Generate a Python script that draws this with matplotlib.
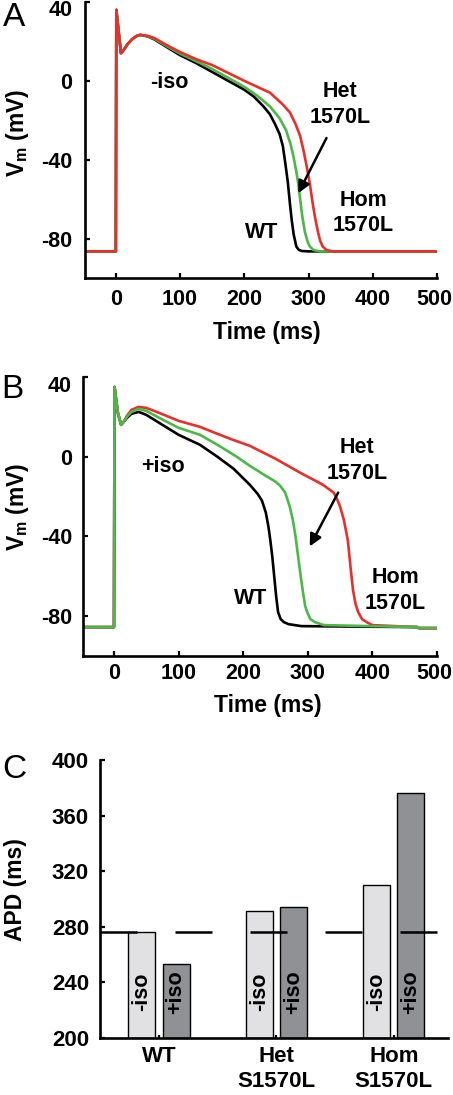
import matplotlib
matplotlib.use("Agg")
import matplotlib.pyplot as plt
import matplotlib.transforms as mtransforms
import numpy as np

plt.rcParams['font.family'] = ['Liberation Sans', 'DejaVu Sans']
plt.rcParams['font.weight'] = 'bold'
plt.rcParams['axes.unicode_minus'] = False
plt.rcParams['mathtext.fontset'] = 'custom'
plt.rcParams['mathtext.rm'] = 'Liberation Sans:bold'
plt.rcParams['mathtext.it'] = 'Liberation Sans:bold'

# Panel A (-iso): upstroke and notch shared by all three traces
onset_t_a = [-48, 0, 0.8, 8, 12, 18, 25, 32, 38]
onset_v_a = [-86.5, -86.5, 36, 14, 15.5, 18.5, 21, 22.7, 23.3]

wt_t_a = [50, 60, 80, 100, 125, 150, 175, 200, 215, 230, 240, 248, 255, 260, 264,
          268, 271, 274, 277, 281, 285, 290, 300, 500]
wt_v_a = [22.5, 21, 17, 13, 9, 4.5, 0, -4.5, -8, -13, -17, -22, -27, -33, -42,
          -52, -62, -71, -78, -84, -85.8, -86.3, -86.5, -86.5]

het_t_a = [50, 60, 80, 100, 125, 150, 175, 200, 220, 240, 255, 265, 272, 277, 281,
           284, 287, 290, 294, 298, 302, 308, 318, 500]
het_v_a = [22.6, 21.3, 17.5, 13.8, 10, 6, 1.5, -3, -7.5, -13, -19, -25, -32, -39, -46,
           -52, -60, -68, -76, -81, -84, -85.8, -86.5, -86.5]

hom_t_a = [50, 60, 80, 100, 125, 150, 175, 200, 220, 240, 260, 271, 280, 287, 292,
           297, 302, 306, 310, 315, 318, 322, 328, 338, 500]
hom_v_a = [22.8, 21.7, 18, 14.6, 11, 8, 4, 0, -3, -6, -12, -16, -22, -28, -35,
           -43, -52, -61, -69, -77, -81, -84, -85.8, -86.5, -86.5]

# Panel B (+iso)
onset_t_b = [-48, 0, 0.8, 6, 11]
onset_v_b = [-85.5, -85.5, 35, 22, 16]

wt_t_b = [15, 20, 27, 38, 50, 70, 100, 133, 160, 185, 210, 222, 229, 235, 239, 242,
          245, 248, 251, 254, 258, 263, 270, 290, 470, 472, 500]
wt_v_b = [17.5, 19.5, 21.5, 22.5, 21, 17, 11, 6, 0, -6, -14, -18.5, -22, -28, -35, -42,
          -50, -60, -70, -78, -81.5, -83, -84, -85, -85.5, -86, -86]

het_t_b = [15, 20, 27, 38, 50, 70, 100, 133, 160, 190, 210, 237, 250, 257, 265, 272,
           277, 281, 285, 289, 293, 296, 299, 304, 311, 325, 470, 472, 500]
het_v_b = [17.5, 20, 22.5, 24, 23, 19.5, 14.5, 11, 6, 0, -4.5, -10, -12.5, -14.5, -18, -25,
           -32, -40, -50, -60, -69, -75, -78, -81.5, -83, -84.5, -85.5, -86, -86]

hom_t_b = [15, 20, 27, 38, 50, 70, 100, 133, 160, 184, 210, 250, 288, 323, 340, 345,
           350, 356, 362, 366, 370, 374, 378, 384, 391, 400, 470, 472, 500]
hom_v_b = [17.5, 20.5, 23.5, 25, 24.5, 22, 18, 15, 11.5, 8.5, 5.5, -1, -8, -14, -18, -21,
           -25, -32, -42, -55, -67, -74, -78, -81.5, -83, -84.5, -85.5, -86, -86]

# Panel C
genotypes = ['WT', 'Het\nS1570L', 'Hom\nS1570L']
apd_minus_iso = [276, 291.5, 310]
apd_plus_iso = [253, 294, 376]
apd_ref = 276

black = '#000000'
green = '#4cb848'
red = '#e8302a'
light_gray = '#e1e1e3'
dark_gray = '#909195'
fs_tick = 15.5
fs_label = 16.5
fs_note = 15.5


def style_axes(ax, size=fs_tick):
    for side in ['top', 'right']:
        ax.spines[side].set_visible(False)
    for side in ['left', 'bottom']:
        ax.spines[side].set_linewidth(1.9)
    ax.tick_params(direction='in', length=3.5, width=1.6, labelsize=size)
    for lbl in ax.get_xticklabels() + ax.get_yticklabels():
        lbl.set_fontweight('bold')


def nudge(label, fig, dx, dy):
    # shift a tick label by a few pixels so it stays inside the figure
    off = mtransforms.ScaledTranslation(dx / 100, dy / 100, fig.dpi_scale_trans)
    label.set_transform(label.get_transform() + off)


def axis_titles(ax, xlab, xpos, ylab, ypos):
    if xlab:
        ax.text(xpos[0], xpos[1], xlab, transform=ax.transAxes, fontsize=fs_label,
                fontweight='bold', ha='center', va='center')
    ax.text(ypos[0], ypos[1], ylab, transform=ax.transAxes, fontsize=fs_label,
            fontweight='bold', ha='center', va='center', rotation=90)


fig = plt.figure(figsize=(4.53, 10.95), dpi=100)

# ---- Panel A
ax_a = fig.add_axes([0.1876, 0.7461, 0.777, 0.2521])
ax_a.plot(onset_t_a + wt_t_a, onset_v_a + wt_v_a, color=black, lw=1.9)
ax_a.plot(onset_t_a + het_t_a, onset_v_a + het_v_a, color=green, lw=1.9)
ax_a.plot(onset_t_a + hom_t_a, onset_v_a + hom_v_a, color=red, lw=1.9)
ax_a.set_xlim(-48, 500)
ax_a.set_ylim(-100, 40)
ax_a.set_xticks([0, 100, 200, 300, 400, 500])
ax_a.set_yticks([-80, -40, 0, 40])
style_axes(ax_a)
ax_a.tick_params(axis='x', pad=8)
ax_a.tick_params(axis='y', pad=9)
nudge(ax_a.get_xticklabels()[-1], fig, -3, 0)
nudge(ax_a.get_yticklabels()[-1], fig, 0, -6)
axis_titles(ax_a, 'Time (ms)', (0.517, -0.196), r'V$_\mathrm{m}$ (mV)', (-0.193, 0.525))
ax_a.text(84, -1, '-iso', fontsize=fs_note, fontweight='bold', ha='center', va='center')
ax_a.text(349, -12, 'Het\n1570L', fontsize=fs_note, fontweight='bold', ha='center',
          va='center', linespacing=1.3)
ax_a.text(385, -67, 'Hom\n1570L', fontsize=fs_note, fontweight='bold', ha='center',
          va='center', linespacing=1.3)
ax_a.text(227, -77, 'WT', fontsize=fs_note, fontweight='bold', ha='center', va='center')
ax_a.annotate('', xy=(284, -57), xytext=(328, -29),
              arrowprops=dict(arrowstyle='-|>', color='black', lw=1.8,
                              mutation_scale=18, shrinkA=0, shrinkB=0))
fig.text(0.031, 1 - 17 / 1095, 'A', fontsize=24, fontweight='normal', ha='center', va='center')

# ---- Panel B
ax_b = fig.add_axes([0.1832, 0.4009, 0.7815, 0.2548])
ax_b.plot(onset_t_b + wt_t_b, onset_v_b + wt_v_b, color=black, lw=1.9)
ax_b.plot(onset_t_b + hom_t_b, onset_v_b + hom_v_b, color=red, lw=1.9)
ax_b.plot(onset_t_b + het_t_b, onset_v_b + het_v_b, color=green, lw=1.9)
ax_b.set_xlim(-48, 500)
ax_b.set_ylim(-100, 40)
ax_b.set_xticks([0, 100, 200, 300, 400, 500])
ax_b.set_yticks([-80, -40, 0, 40])
style_axes(ax_b)
ax_b.tick_params(axis='x', pad=5)
ax_b.tick_params(axis='y', pad=8)
nudge(ax_b.get_xticklabels()[-1], fig, -3, 0)
nudge(ax_b.get_yticklabels()[-1], fig, 0, -7)
axis_titles(ax_b, 'Time (ms)', (0.523, -0.176), r'V$_\mathrm{m}$ (mV)', (-0.186, 0.534))
ax_b.text(76, -5, '+iso', fontsize=fs_note, fontweight='bold', ha='center', va='center')
ax_b.text(376, -2, 'Het\n1570L', fontsize=fs_note, fontweight='bold', ha='center',
          va='center', linespacing=1.3)
ax_b.text(435, -67, 'Hom\n1570L', fontsize=fs_note, fontweight='bold', ha='center',
          va='center', linespacing=1.3)
ax_b.text(211, -71, 'WT', fontsize=fs_note, fontweight='bold', ha='center', va='center')
ax_b.annotate('', xy=(303, -45), xytext=(347, -18),
              arrowprops=dict(arrowstyle='-|>', color='black', lw=1.8,
                              mutation_scale=18, shrinkA=0, shrinkB=0))
fig.text(0.027, 1 - 390 / 1095, 'B', fontsize=24, fontweight='normal', ha='center', va='center')

# ---- Panel C
ax_c = fig.add_axes([0.2208, 0.0521, 0.768, 0.2539])
x = np.arange(1, len(genotypes) + 1)
off, w = 0.145, 0.23
ax_c.bar(x - off, np.array(apd_minus_iso) - 200, width=w, bottom=200,
         color=light_gray, edgecolor='black', lw=1.0, zorder=2)
ax_c.bar(x + off, np.array(apd_plus_iso) - 200, width=w, bottom=200,
         color=dark_gray, edgecolor='black', lw=1.0, zorder=2)
ax_c.axhline(apd_ref, color='black', lw=1.8, dashes=(37 * 0.72 / 1.8, 38 * 0.72 / 1.8),
             zorder=3)
for xi in x:
    ax_c.text(xi - off, 233, '-iso', rotation=90, fontsize=fs_note, fontweight='bold',
              ha='center', va='center', zorder=4)
    ax_c.text(xi + off, 233, '+iso', rotation=90, fontsize=fs_note, fontweight='bold',
              ha='center', va='center', zorder=4)
ax_c.set_xlim(0.498, 3.46)
ax_c.set_ylim(200, 400)
ax_c.set_xticks(x)
ax_c.set_xticklabels(genotypes, linespacing=1.25)
ax_c.set_yticks([200, 240, 280, 320, 360, 400])
style_axes(ax_c, size=16)
ax_c.tick_params(axis='x', pad=6, length=2.5, labelsize=16)
ax_c.tick_params(axis='y', pad=8)
axis_titles(ax_c, None, None, 'APD (ms)', (-0.244, 0.532))
fig.text(0.031, 1 - 769 / 1095, 'C', fontsize=24, fontweight='normal', ha='center', va='center')

fig.savefig('out.png', dpi=100)
